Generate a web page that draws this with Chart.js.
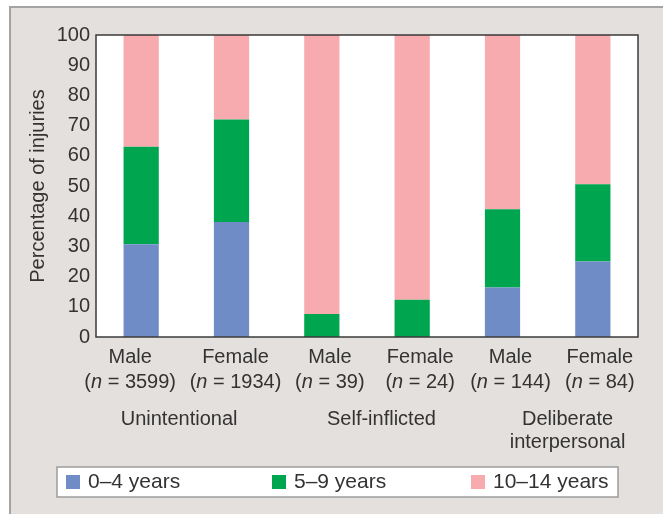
<!DOCTYPE html>
<html>
<head>
<meta charset="utf-8">
<script src="https://cdn.jsdelivr.net/npm/chart.js@4/dist/chart.umd.min.js"></script>
<style>
  html, body { margin: 0; padding: 0; background: #fff; }
  #frame {
    position: absolute; left: 9px; top: 6px; width: 700px; height: 600px;
    background: #e4e0dd; border-left: 2px solid #a3a3a3; border-top: 2px solid #a3a3a3;
  }
  #chart { position: absolute; left: 0; top: 0; }
</style>
</head>
<body>
<div id="frame"></div>
<canvas id="chart" width="663" height="514"></canvas>
<script>
document.addEventListener('DOMContentLoaded', function() {

    // ------------------------------------
    // Data
    // ------------------------------------
    const categories = ['Male', 'Female', 'Male', 'Female', 'Male', 'Female'];
    const sampleSizes = ['3599', '1934', '39', '24', '144', '84'];
    const groupNames = [['Unintentional'], ['Self-inflicted'], ['Deliberate', 'interpersonal']];
    const ageGroups = ['0–4 years', '5–9 years', '10–14 years'];

    const age0to4 = [30.7, 38.1, 0, 0, 16.4, 25.0];
    const age5to9 = [32.3, 33.9, 7.6, 12.3, 25.9, 25.6];
    const age10to14 = [37.0, 28.0, 92.4, 87.7, 57.7, 49.4];

    // ------------------------------------
    // Layout / style
    // ------------------------------------
    const FONT = '"Liberation Sans", Arial, Helvetica, sans-serif';
    const TEXT = '#333333';
    const colors = ['#6f8cc6', '#00a550', '#f7abae'];
    const labelShift = [-11, 4, 8, 8, 8, 7];    // px nudge of the category labels
    const groupAt = [0.42, 2.66, 4.72];         // category position of group captions

    // white plot background + dark frame
    const plotFrame = {
        id: 'plotFrame',
        beforeDatasetsDraw(chart) {
            const {ctx, chartArea: a} = chart;
            ctx.save();
            ctx.fillStyle = '#ffffff';
            ctx.fillRect(a.left, a.top, a.right - a.left, a.bottom - a.top);
            ctx.restore();
        },
        afterDatasetsDraw(chart) {
            const {ctx, chartArea: a} = chart;
            ctx.save();
            ctx.strokeStyle = '#3a3a3a';
            ctx.lineWidth = 1.5;
            ctx.strokeRect(a.left, a.top, a.right - a.left, a.bottom - a.top);
            ctx.restore();
        }
    };

    // category labels with italic n, group captions
    const xLabels = {
        id: 'xLabels',
        afterDraw(chart) {
            const {ctx, chartArea: a} = chart;
            const x = chart.scales.x;
            ctx.save();
            ctx.fillStyle = TEXT;
            ctx.textBaseline = 'middle';
            const normal = '20px ' + FONT;
            const italic = 'italic 20px ' + FONT;

            categories.forEach((cat, i) => {
                const cx = x.getPixelForValue(i) + labelShift[i];
                ctx.font = normal;
                ctx.textAlign = 'center';
                ctx.fillText(cat, cx, a.bottom + 20);

                const p1 = '(', p3 = ' = ' + sampleSizes[i] + ')';
                ctx.font = normal;
                const w1 = ctx.measureText(p1).width, w3 = ctx.measureText(p3).width;
                ctx.font = italic;
                const w2 = ctx.measureText('n').width;
                let sx = cx - (w1 + w2 + w3) / 2;
                ctx.textAlign = 'left';
                ctx.font = normal;
                ctx.fillText(p1, sx, a.bottom + 45);
                ctx.font = italic;
                ctx.fillText('n', sx + w1, a.bottom + 45);
                ctx.font = normal;
                ctx.fillText(p3, sx + w1 + w2, a.bottom + 45);
            });

            ctx.textAlign = 'center';
            ctx.font = normal;
            groupNames.forEach((lines, g) => {
                const gx = x.getPixelForValue(groupAt[g]);
                lines.forEach((line, k) => ctx.fillText(line, gx, a.bottom + 82 + k * 23));
            });
            ctx.restore();
        }
    };

    // boxed legend row
    const boxLegend = {
        id: 'boxLegend',
        afterDraw(chart) {
            const {ctx} = chart;
            const starts = [66, 272, 471];
            ctx.save();
            ctx.fillStyle = '#ffffff';
            ctx.fillRect(57, 467, 561, 30);
            ctx.strokeStyle = '#9c9c9c';
            ctx.lineWidth = 1.5;
            ctx.strokeRect(57, 467, 561, 30);
            ctx.font = '21px ' + FONT;
            ctx.textBaseline = 'middle';
            ctx.textAlign = 'left';
            chart.data.datasets.forEach((ds, i) => {
                ctx.fillStyle = ds.backgroundColor;
                ctx.fillRect(starts[i], 475, 14, 14);
                ctx.fillStyle = TEXT;
                ctx.fillText(ds.label, starts[i] + 22, 482);
            });
            ctx.restore();
        }
    };

    const ctx = document.getElementById('chart').getContext('2d');
    new Chart(ctx, {
        type: 'bar',
        data: {
            labels: categories,
            datasets: [
                { label: ageGroups[0], data: age0to4, backgroundColor: colors[0] },
                { label: ageGroups[1], data: age5to9, backgroundColor: colors[1] },
                { label: ageGroups[2], data: age10to14, backgroundColor: colors[2] }
            ]
        },
        options: {
            responsive: false,
            animation: false,
            layout: { padding: { left: 0, top: 35, right: 25, bottom: 177 } },
            datasets: { bar: { categoryPercentage: 1, barPercentage: 0.39, borderWidth: 0 } },
            plugins: { legend: { display: false }, tooltip: { enabled: false } },
            scales: {
                x: {
                    stacked: true,
                    grid: { display: false, drawTicks: false },
                    border: { display: false },
                    ticks: { display: false }
                },
                y: {
                    stacked: true,
                    min: 0,
                    max: 100,
                    afterFit(scale) { scale.width = 96; },
                    grid: { display: false, drawTicks: false },
                    border: { display: false },
                    ticks: { stepSize: 10, padding: 6, color: TEXT, font: { family: FONT, size: 20 } },
                    title: {
                        display: true,
                        text: 'Percentage of injuries',
                        color: TEXT,
                        font: { family: FONT, size: 20 },
                        padding: { top: 26, bottom: 0 }
                    }
                }
            }
        },
        plugins: [plotFrame, xLabels, boxLegend]
    });
});
</script>
</body>
</html>
